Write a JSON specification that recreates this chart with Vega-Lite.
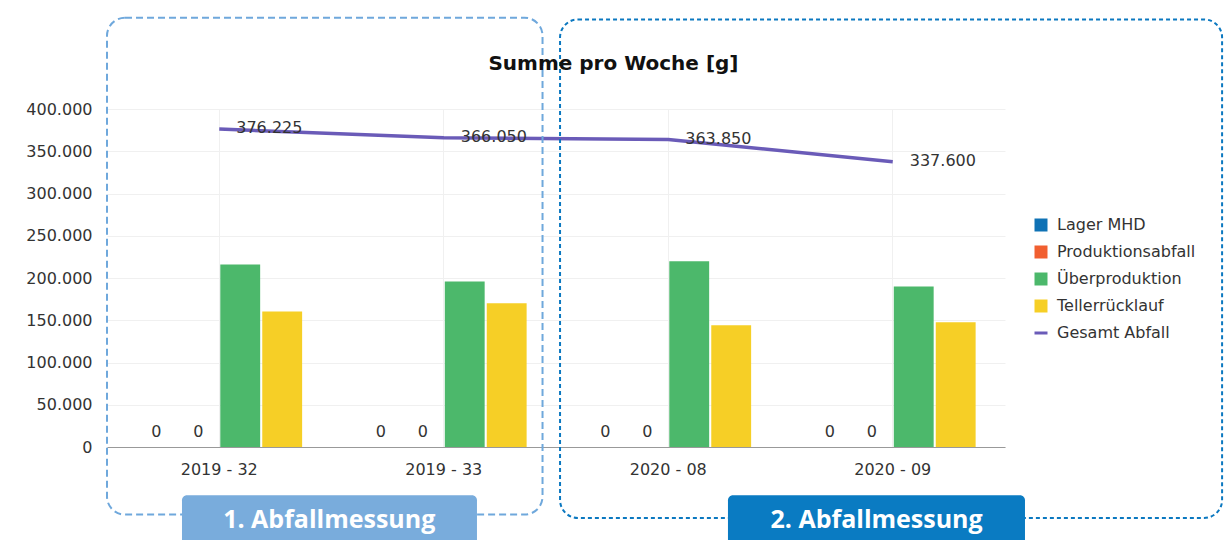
{
  "$schema": "https://vega.github.io/schema/vega-lite/v6.json",
  "width": 898,
  "height": 338,
  "autosize": {"type": "none"},
  "padding": {"left": 107, "top": 109, "right": 220, "bottom": 93},
  "background": "white",
  "config": {
    "locale": {"number": {"decimal": ",", "thousands": ".", "grouping": [3], "currency": ["", " €"]}},
    "view": {"stroke": null},
    "font": "DejaVu Sans"
  },
  "title": {
    "text": "Summe pro Woche [g]",
    "anchor": "middle",
    "frame": "bounds",
    "font": "DejaVu Sans",
    "fontSize": 20,
    "fontWeight": "bold",
    "color": "#111111",
    "offset": -57,
    "dx": -11
  },
  "datasets": {
    "abfall": [
      {"woche": "2019 - 32", "kategorie": "Lager MHD", "wert": 0},
      {"woche": "2019 - 32", "kategorie": "Produktionsabfall", "wert": 0},
      {"woche": "2019 - 32", "kategorie": "Überproduktion", "wert": 216000},
      {"woche": "2019 - 32", "kategorie": "Tellerrücklauf", "wert": 160225},
      {"woche": "2019 - 33", "kategorie": "Lager MHD", "wert": 0},
      {"woche": "2019 - 33", "kategorie": "Produktionsabfall", "wert": 0},
      {"woche": "2019 - 33", "kategorie": "Überproduktion", "wert": 196000},
      {"woche": "2019 - 33", "kategorie": "Tellerrücklauf", "wert": 170050},
      {"woche": "2020 - 08", "kategorie": "Lager MHD", "wert": 0},
      {"woche": "2020 - 08", "kategorie": "Produktionsabfall", "wert": 0},
      {"woche": "2020 - 08", "kategorie": "Überproduktion", "wert": 219850},
      {"woche": "2020 - 08", "kategorie": "Tellerrücklauf", "wert": 144000},
      {"woche": "2020 - 09", "kategorie": "Lager MHD", "wert": 0},
      {"woche": "2020 - 09", "kategorie": "Produktionsabfall", "wert": 0},
      {"woche": "2020 - 09", "kategorie": "Überproduktion", "wert": 190000},
      {"woche": "2020 - 09", "kategorie": "Tellerrücklauf", "wert": 147600}
    ],
    "gesamt": [
      {"woche": "2019 - 32", "kategorie": "Gesamt Abfall", "wert": 376225},
      {"woche": "2019 - 33", "kategorie": "Gesamt Abfall", "wert": 366050},
      {"woche": "2020 - 08", "kategorie": "Gesamt Abfall", "wert": 363850},
      {"woche": "2020 - 09", "kategorie": "Gesamt Abfall", "wert": 337600}
    ],
    "messungen": [
      {"messung": "1. Abfallmessung", "start": 0.0, "ende": 1.94, "oben": 508000, "unten": -80000, "etikett_start": 0.334, "etikett_ende": 1.648, "etikett_mitte": 0.99, "etikett_oben": -57000, "etikett_unten": -125000, "etikett_y": -86000},
      {"messung": "2. Abfallmessung", "start": 2.018, "ende": 4.967, "oben": 506000, "unten": -84000, "etikett_start": 2.766, "etikett_ende": 4.089, "etikett_mitte": 3.428, "etikett_oben": -57000, "etikett_unten": -125000, "etikett_y": -86000}
    ]
  },
  "layer": [
    {
      "layer": [
        {
          "data": {"name": "abfall"},
          "mark": {"type": "bar"},
          "encoding": {
            "x": {
              "field": "woche", "type": "nominal", "sort": null,
              "scale": {"paddingInner": 0, "paddingOuter": 0},
              "axis": {"title": null, "labelAngle": 0, "domainColor": "#999999", "ticks": false, "grid": true, "gridColor": "#f0f0f0", "bandPosition": 0.5, "labelPadding": 14, "labelFontSize": 16, "labelColor": "#333333", "labelFont": "DejaVu Sans"}
            },
            "xOffset": {
              "field": "kategorie", "type": "nominal",
              "sort": ["Lager MHD", "Produktionsabfall", "Überproduktion", "Tellerrücklauf"],
              "scale": {"paddingInner": 0.05, "paddingOuter": 0.7}
            },
            "y": {
              "field": "wert", "type": "quantitative", "title": null,
              "scale": {"domain": [0, 400000], "nice": false},
              "axis": {"values": [0, 50000, 100000, 150000, 200000, 250000, 300000, 350000, 400000], "format": ",d", "domain": false, "ticks": false, "gridColor": "#f0f0f0", "labelPadding": 15, "labelFontSize": 16, "labelColor": "#333333", "labelFont": "DejaVu Sans"}
            },
            "color": {
              "field": "kategorie", "type": "nominal",
              "scale": {
                "domain": ["Lager MHD", "Produktionsabfall", "Überproduktion", "Tellerrücklauf", "Gesamt Abfall"],
                "range": ["#0f72b5", "#f15f30", "#4cb86b", "#f6cf26", "#6a5bb8"]
              },
              "legend": {
                "title": null, "orient": "none", "legendX": 926, "legendY": 108,
                "symbolSize": 169, "symbolType": "square", "labelFontSize": 16, "labelColor": "#333333", "labelFont": "DejaVu Sans",
                "rowPadding": 11, "labelOffset": 8, "padding": 0,
                "encode": {
                  "symbols": {
                    "update": {
                      "shape": {"signal": "datum.value === 'Gesamt Abfall' ? 'stroke' : 'square'"},
                      "stroke": {"scale": "color", "field": "value"},
                      "strokeWidth": {"signal": "datum.value === 'Gesamt Abfall' ? 3 : 0"},
                      "opacity": {"value": 1}
                    }
                  }
                }
              }
            }
          }
        },
        {
          "data": {"name": "abfall"},
          "transform": [{"filter": "datum.wert === 0"}],
          "mark": {"type": "text", "baseline": "bottom", "dy": -7, "fontSize": 16, "color": "#333333", "font": "DejaVu Sans"},
          "encoding": {
            "x": {"field": "woche", "type": "nominal", "sort": null},
            "xOffset": {"field": "kategorie", "type": "nominal", "sort": ["Lager MHD", "Produktionsabfall", "Überproduktion", "Tellerrücklauf"]},
            "y": {"field": "wert", "type": "quantitative", "title": null},
            "text": {"field": "wert", "type": "quantitative", "format": ",d"}
          }
        },
        {
          "data": {"name": "gesamt"},
          "mark": {"type": "line", "strokeWidth": 3.5},
          "encoding": {
            "x": {"field": "woche", "type": "nominal", "sort": null},
            "y": {"field": "wert", "type": "quantitative", "title": null},
            "color": {"field": "kategorie", "type": "nominal"}
          }
        },
        {
          "data": {"name": "gesamt"},
          "mark": {"type": "text", "align": "left", "baseline": "middle", "dx": 17, "dy": -1, "fontSize": 16, "color": "#333333", "font": "DejaVu Sans"},
          "encoding": {
            "x": {"field": "woche", "type": "nominal", "sort": null},
            "y": {"field": "wert", "type": "quantitative", "title": null},
            "text": {"field": "wert", "type": "quantitative", "format": ",d"}
          }
        }
      ]
    },
    {
      "data": {"name": "messungen"},
      "layer": [
        {
          "transform": [{"filter": "datum.messung === '1. Abfallmessung'"}],
          "mark": {"type": "rect", "filled": false, "stroke": "#6fa8dc", "strokeWidth": 2, "strokeDash": [7, 4], "cornerRadius": 18},
          "encoding": {
            "x": {"field": "start", "type": "quantitative", "scale": {"domain": [0, 4], "nice": false, "zero": false}, "axis": null},
            "x2": {"field": "ende"},
            "y": {"field": "oben", "type": "quantitative", "scale": {"domain": [0, 400000], "nice": false}, "axis": null},
            "y2": {"field": "unten"}
          }
        },
        {
          "transform": [{"filter": "datum.messung === '2. Abfallmessung'"}],
          "mark": {"type": "rect", "filled": false, "stroke": "#0b78c0", "strokeWidth": 2, "strokeDash": [4, 3], "cornerRadius": 18},
          "encoding": {
            "x": {"field": "start", "type": "quantitative"},
            "x2": {"field": "ende"},
            "y": {"field": "oben", "type": "quantitative"},
            "y2": {"field": "unten"}
          }
        },
        {
          "mark": {"type": "rect", "cornerRadius": 5},
          "encoding": {
            "x": {"field": "etikett_start", "type": "quantitative"},
            "x2": {"field": "etikett_ende"},
            "y": {"field": "etikett_oben", "type": "quantitative"},
            "y2": {"field": "etikett_unten"},
            "fill": {"field": "messung", "type": "nominal", "scale": {"range": ["#79acdc", "#0a7bc2"]}, "legend": null}
          }
        },
        {
          "mark": {"type": "text", "font": "Open Sans", "fontWeight": "bold", "fontSize": 25, "color": "white", "baseline": "middle", "align": "center"},
          "encoding": {
            "x": {"field": "etikett_mitte", "type": "quantitative"},
            "y": {"field": "etikett_y", "type": "quantitative"},
            "text": {"field": "messung", "type": "nominal"}
          }
        }
      ]
    }
  ],
  "resolve": {"scale": {"x": "independent", "y": "independent"}}
}
